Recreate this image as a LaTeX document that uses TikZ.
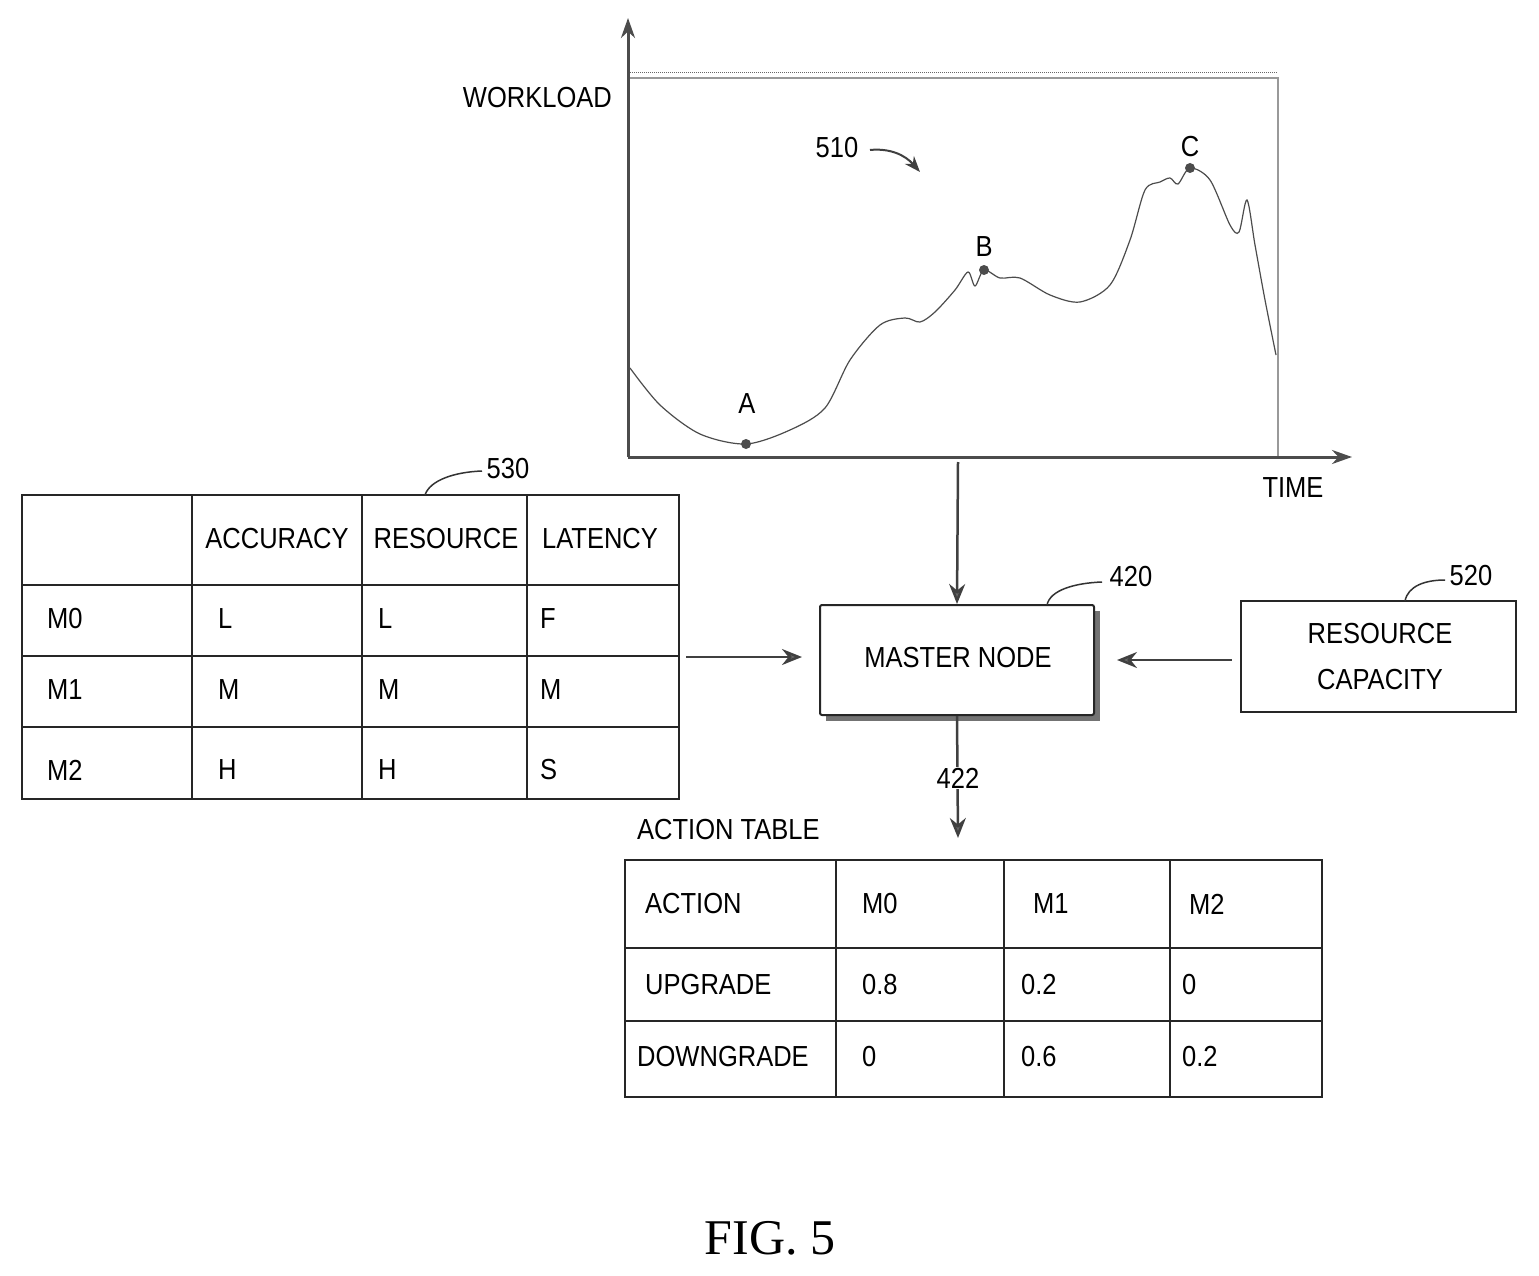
\documentclass[tikz,border=0pt]{standalone}
\usepackage{fontspec}
\setmainfont{Liberation Sans}[FakeStretch=0.88]
\newfontfamily\figfont{Liberation Serif}
\usetikzlibrary{arrows.meta}
\begin{document}
\begin{tikzpicture}[x=1pt,y=-1pt,
  txt/.style={font=\fontsize{29}{32}\selectfont, inner sep=0pt},
  tl/.style={txt, anchor=west},
  grid/.style={line width=2pt, draw=black!85},
  arr/.style={line width=2.5pt, draw=black!75, -{Stealth[length=20pt,width=16pt,fill=black!60]}},
  lead/.style={line width=1.5pt, draw=black!80},
  box/.style={draw=black!85, line width=2pt, fill=white, rounded corners=2pt}]
\useasboundingbox (0,0) rectangle (1539,1276);
% chart
\draw[line width=1pt, densely dotted, black!60] (628,73) -- (1278,73);
\draw[line width=2pt, black!40] (628,78) -- (1278,78) -- (1278,457);
\coordinate (o) at (628,457);
\coordinate (ytop) at (628,18);
\coordinate (xend) at (1352,457);
\draw[line width=3pt, black!70, -{Stealth[length=20pt,width=14pt]}] (o) -- (ytop);
\draw[line width=3pt, black!70, -{Stealth[length=20pt,width=14pt]}] (o) -- (xend);
\node[txt, anchor=east] (wl) at (612,98) {WORKLOAD};
\node[txt] (time) at (1293,488) {TIME};
\draw[line width=1.2pt, black!70] plot[smooth, tension=0.5] coordinates {
 (630,368) (660,405) (700,434) (746,444) (790,430) (825,408) (850,360) (880,325)
 (905,318) (920,322) (935,312) (955,290) (968,272) (975,286) (984,270) (1000,278)
 (1020,278) (1050,295) (1080,302) (1110,285) (1130,240) (1145,190) (1160,182)
 (1170,178) (1178,184) (1190,168) (1210,180) (1230,225) (1239,232) (1247,200)
 (1255,245) (1265,300) (1276,355)};
\foreach \n/\p in {A/{746,444},B/{984,270},C/{1190,168}} \fill[black!70] (\p) circle (5pt);
\node[txt] (la) at (747,404) {A};
\node[txt] (lb) at (984,247) {B};
\node[txt] (lc) at (1190,147) {C};
\node[txt] (l510) at (837,148) {510};
\coordinate (a510) at (920,172);
\draw[line width=2pt, black!75, -{Stealth[length=16pt,width=12pt]}] (870,150) .. controls (890,148) and (905,155) .. (a510);
% master node
\coordinate (chartbot) at (958,462);
\fill[black!55] (826,611) rectangle (1100,721);
\node[box, minimum width=274pt, minimum height=110pt] (mn) at (957,660) {};
\node[txt] (mnt) at (958,658) {MASTER NODE};
\draw[arr] (chartbot) -- (mn.north);
\node[txt] (l420) at (1131,577) {420};
\draw[lead] (1047,605) .. controls (1050,590) and (1075,583) .. (1102,582);
% resource capacity
\node[box, rounded corners=0pt, minimum width=275pt, minimum height=111pt] (rc) at (1378,656) {};
\node[txt, align=center] (rct) at (1380,657) {RESOURCE\\[14pt]CAPACITY};
\node[txt] (l520) at (1471,576) {520};
\draw[lead] (1405,601) .. controls (1408,586) and (1425,580) .. (1445,580);
\draw[arr] (rc.west) ++(-8,4) coordinate (rcw) (rcw) -- (1117,660);
% table 530
\draw[grid] (22,495) rectangle (679,799);
\foreach \y in {585,656,727} \draw[grid] (22,\y) -- (679,\y);
\foreach \x in {192,362,527} \draw[grid] (\x,495) -- (\x,799);
\node[txt] (hacc) at (277,539) {ACCURACY};
\node[txt] (hres) at (446,539) {RESOURCE};
\node[txt] (hlat) at (600,539) {LATENCY};
\node[tl] (m0) at (47,619) {M0};
\node[tl] (m1) at (47,690) {M1};
\node[tl] (m2) at (47,770) {M2};
\node[tl] (c01) at (218,619) {L};
\node[tl] (c02) at (378,619) {L};
\node[tl] (c03) at (540,619) {F};
\node[tl] (c11) at (218,690) {M};
\node[tl] (c12) at (378,690) {M};
\node[tl] (c13) at (540,690) {M};
\node[tl] (c21) at (218,770) {H};
\node[tl] (c22) at (378,770) {H};
\node[tl] (c23) at (540,770) {S};
\node[txt] (l530) at (508,469) {530};
\draw[lead] (425,495) .. controls (430,480) and (455,472) .. (482,471);
\coordinate (tabr) at (686,657);
\draw[arr] (tabr) -- (802,657);
% action table
\coordinate (atop) at (958,838);
\draw[arr] (mn.south) -- (atop);
\node[txt, fill=white, inner sep=1pt] (l422) at (958,778) {422};
\node[tl] (at) at (637,830) {ACTION TABLE};
\draw[grid] (625,860) rectangle (1322,1097);
\foreach \y in {948,1021} \draw[grid] (625,\y) -- (1322,\y);
\foreach \x in {836,1004,1170} \draw[grid] (\x,860) -- (\x,1097);
\node[tl] (ha) at (645,904) {ACTION};
\node[tl] (hm0) at (862,904) {M0};
\node[tl] (hm1) at (1033,904) {M1};
\node[tl] (hm2) at (1189,904) {M2};
\node[tl] (up) at (645,985) {UPGRADE};
\node[tl] (u0) at (862,985) {0.8};
\node[tl] (u1) at (1021,985) {0.2};
\node[tl] (u2) at (1182,985) {0};
\node[tl] (dn) at (637,1057) {DOWNGRADE};
\node[tl] (d0) at (862,1057) {0};
\node[tl] (d1) at (1021,1057) {0.6};
\node[tl] (d2) at (1182,1057) {0.2};
\node[inner sep=0pt, font=\figfont\fontsize{50}{55}\selectfont] (fig) at (770,1238) {FIG. 5};
\end{tikzpicture}
\end{document}
